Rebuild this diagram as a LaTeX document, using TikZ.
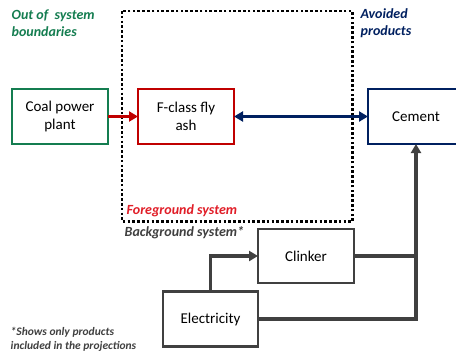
\documentclass[tikz,border=0pt]{standalone}
\usepackage{fontspec}
\setmainfont{Carlito}
\usetikzlibrary{arrows.meta}
\definecolor{cgreen}{RGB}{20,125,80}
\definecolor{cred}{RGB}{192,0,0}
\definecolor{clred}{RGB}{225,30,40}
\definecolor{cnavy}{RGB}{0,32,96}
\definecolor{cgray}{RGB}{64,64,64}
\tikzset{
  procbox/.style={draw, line width=2.4bp, minimum width=96bp, minimum height=55bp,
    inner sep=2bp, outer sep=0pt, align=center, font=\fontsize{15bp}{18bp}\selectfont, text=black},
  lbl/.style={anchor=west, inner sep=0pt, align=left, font=\fontsize{14bp}{17bp}\selectfont\bfseries\itshape},
  grayflow/.style={draw=cgray, line width=3.4bp},
  tip/.style={-{Triangle[length=9bp,width=10bp]}}
}
\begin{document}
\begin{tikzpicture}[x=1bp,y=-1bp]
\clip (0,0) rectangle (456,353);
\fill[white] (0,0) rectangle (456,353);
% dotted system boundary
\draw[line width=2.6bp, dash pattern=on 2.6bp off 2.2bp] (122,11) rectangle (352.5,221.5);
% boxes
\node[procbox, draw=cgreen] (coal) at (60,116.5) {Coal power\\plant};
\node[procbox, draw=cred] (fly) at (186,116.5) {F-class fly\\ash};
\node[procbox, draw=cnavy] (cement) at (416,116.5) {Cement};
\node[procbox, draw=cgray, minimum height=54bp] (clinker) at (306,256) {Clinker};
\node[procbox, draw=cgray, minimum width=95bp] (elec) at (210.5,319) {Electricity};
% connectors
\draw[cred, line width=3bp, -{Triangle[length=9bp,width=10bp]}] (coal) -- (fly);
\draw[cnavy, line width=3bp, {Triangle[length=9bp,width=10bp]}-{Triangle[length=9bp,width=10bp]}] (fly) -- (cement);
\draw[grayflow] (clinker.east) -- (clinker.east -| cement.south);
\draw[grayflow, tip, color=cgray] (elec.east) -| (cement.south);
\draw[grayflow, tip, color=cgray] (elec.north) |- (clinker.west);
% labels
\node[lbl, text=cgreen] (l1) at (11.5,23.5) {Out of~ system\\boundaries};
\node[lbl, text=cnavy] (l2) at (360.5,23.5) {Avoided\\products};
\node[lbl, text=clred] (l3) at (126.5,211) {Foreground system};
\node[lbl, text=cgray] (l4) at (124.5,232.5) {Background system*};
\node[lbl, text=cgray, font=\fontsize{11.5bp}{13.5bp}\selectfont\bfseries\itshape] (l5) at (10.5,339.5) {*Shows only products\\included in the projections};
\end{tikzpicture}
\end{document}
